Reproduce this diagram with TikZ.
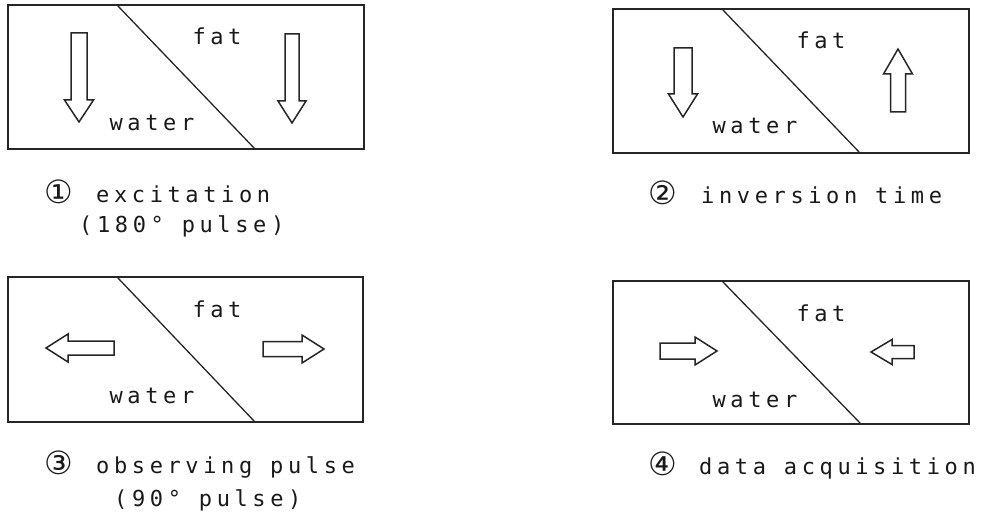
\documentclass[tikz,border=0pt]{standalone}
\usepackage{fontspec}
\newfontfamily\plotfont[LetterSpace=21]{DejaVu Sans Mono}
\newfontfamily\symfont{DejaVu Sans}
\tikzset{
  panel/.style={draw=black!85, line width=1.6pt},
  interface/.style={draw=black!85, line width=1.3pt},
  hollow/.style={draw=black!85, line width=1.5pt, line join=miter, fill=white},
  tissue/.style={font=\plotfont\fontsize{22}{24}\selectfont, text=black!90, inner sep=0pt, anchor=base},
  caption/.style={font=\plotfont\fontsize{22}{24}\selectfont, text=black!90, inner sep=0pt, anchor=base west},
  stepno/.style={font=\symfont\fontsize{32}{34}\selectfont, text=black!90, inner sep=0pt, anchor=base west}
}
% hollow block arrow: #1 tip, #2 direction (deg), #3 total length,
% #4 head length, #5 head half width, #6 shaft half width
\newcommand\hollowarrow[6]{%
  \draw[hollow, shift={(#1)}, rotate=#2]
    (0,0) -- (-#4,#5) -- (-#4,#6) -- (-#3,#6) -- (-#3,-#6) -- (-#4,-#6) -- (-#4,-#5) -- cycle;}
\begin{document}
\begin{tikzpicture}[x=1pt, y=-1pt]
\useasboundingbox (0,0) rectangle (985,516);

% panel 1: excitation
\draw[panel] (8,5) rectangle (364,149);
\draw[interface] (117,5) -- (255,149);
\node[tissue] (fat1) at (217,45) {fat};
\node[tissue] (water1) at (152,131) {water};
\hollowarrow{79,122}{-90}{89}{22}{14.5}{8}
\hollowarrow{292,123}{-90}{89}{22}{14}{7}
\node[stepno] (n1) at (44,203) {①};
\node[caption] (c1) at (96,202) {excitation};
\node[caption] (c1b) at (79,232) {(180° pulse)};

% panel 2: inversion time
\draw[panel] (613,9) rectangle (969,153);
\draw[interface] (722,9) -- (860,153);
\node[tissue] (fat2) at (821,49) {fat};
\node[tissue] (water2) at (755,134) {water};
\hollowarrow{683,117}{-90}{69}{23}{14.5}{9}
\hollowarrow{898,49}{90}{63}{25}{14.5}{7.5}
\node[stepno] (n2) at (648,204) {②};
\node[caption] (c2) at (701,203) {inversion time};

% panel 3: observing pulse
\draw[panel] (8,277) rectangle (363,422);
\draw[interface] (117,277) -- (255,422);
\node[tissue] (fat3) at (217,317) {fat};
\node[tissue] (water3) at (152,403) {water};
\hollowarrow{46,348}{180}{68}{22}{14}{7}
\hollowarrow{324,349}{0}{61}{22}{14}{7.5}
\node[stepno] (n3) at (44,474) {③};
\node[caption] (c3) at (96,473) {observing pulse};
\node[caption] (c3b) at (114,506) {(90° pulse)};

% panel 4: data acquisition
\draw[panel] (613,281) rectangle (969,424);
\draw[interface] (722,281) -- (861,424);
\node[tissue] (fat4) at (821,321) {fat};
\node[tissue] (water4) at (755,407) {water};
\hollowarrow{717,351}{0}{57}{22}{14}{8}
\hollowarrow{871,352}{180}{43}{21}{12.5}{6.5}
\node[stepno] (n4) at (648,475) {④};
\node[caption] (c4) at (699,474) {data acquisition};
\end{tikzpicture}
\end{document}
